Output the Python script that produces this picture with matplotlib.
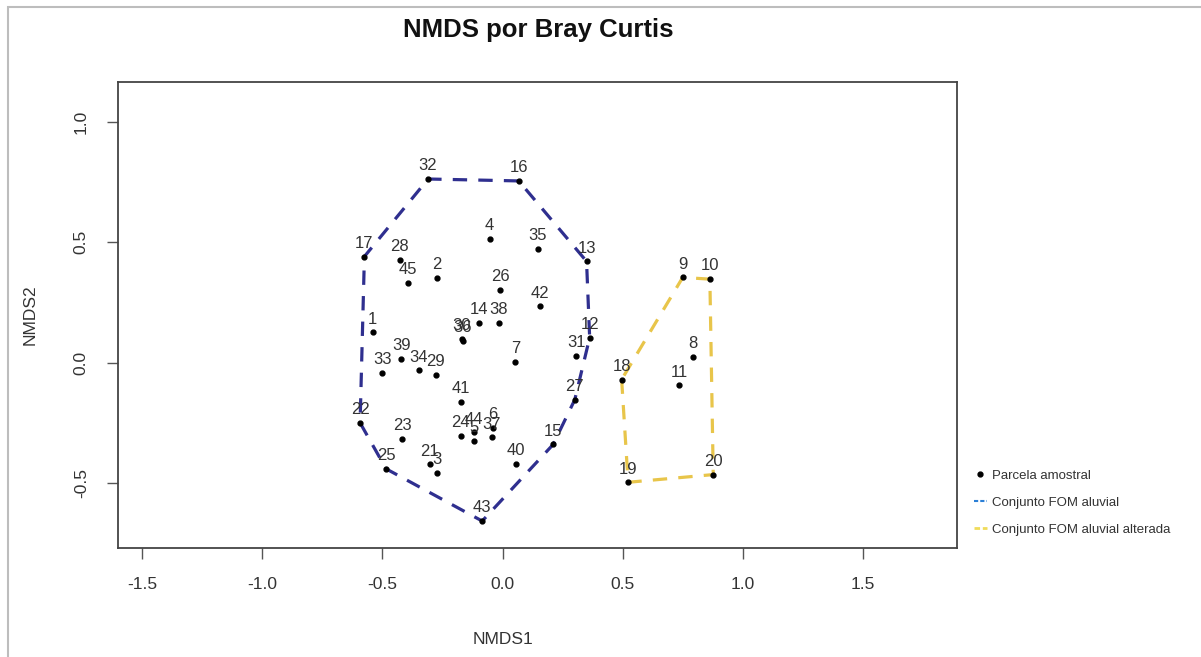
import matplotlib
matplotlib.use("Agg")
import matplotlib.pyplot as plt
from matplotlib.lines import Line2D
from matplotlib.patches import Rectangle

plt.rcParams['font.family'] = ['Liberation Sans', 'DejaVu Sans']

# NMDS scores
labels = ['32', '16', '4', '35', '13', '17', '28', '45', '2', '26', '42', '14', '38',
          '30', '36', '1', '12', '31', '7', '39', '33', '34', '29', '41', '27', '22',
          '23', '24', '44', '5', '37', '6', '15', '21', '3', '25', '40', '43',
          '9', '10', '8', '11', '18', '19', '20']
nmds1 = [-0.31, 0.067, -0.054, 0.146, 0.349, -0.575, -0.429, -0.395, -0.274, -0.010, 0.157, -0.10, -0.015,
         -0.17, -0.165, -0.54, 0.362, 0.307, 0.053, -0.422, -0.501, -0.35, -0.279, -0.172, 0.30, -0.593,
         -0.418, -0.175, -0.12, -0.12, -0.045, -0.04, 0.21, -0.304, -0.274, -0.485, 0.054, -0.085,
         0.749, 0.862, 0.793, 0.735, 0.495, 0.522, 0.876]
nmds2 = [0.763, 0.755, 0.515, 0.473, 0.421, 0.441, 0.427, 0.333, 0.351, 0.303, 0.234, 0.165, 0.165,
         0.10, 0.09, 0.126, 0.104, 0.029, 0.003, 0.017, -0.043, -0.032, -0.05, -0.163, -0.154, -0.25,
         -0.317, -0.305, -0.29, -0.325, -0.31, -0.27, -0.34, -0.423, -0.458, -0.441, -0.42, -0.658,
         0.354, 0.347, 0.024, -0.094, -0.07, -0.497, -0.465]
alterada = ['9', '10', '8', '11', '18', '19', '20']

legend_labels = ['Parcela amostral', 'Conjunto FOM aluvial', 'Conjunto FOM aluvial alterada']


def hull(pts):
    pts = sorted(set(pts))
    def cross(o, a, b):
        return (a[0]-o[0])*(b[1]-o[1]) - (a[1]-o[1])*(b[0]-o[0])
    lower = []
    for p in pts:
        while len(lower) >= 2 and cross(lower[-2], lower[-1], p) <= 0:
            lower.pop()
        lower.append(p)
    upper = []
    for p in reversed(pts):
        while len(upper) >= 2 and cross(upper[-2], upper[-1], p) <= 0:
            upper.pop()
        upper.append(p)
    h = lower[:-1] + upper[:-1]
    return h + [h[0]]


fig = plt.figure(figsize=(12.01, 6.57), dpi=100)
fig.patches.append(Rectangle((8/1201, -0.1), 1.2, 1 - 7/657 + 0.1, transform=fig.transFigure,
                             fill=False, edgecolor='#bdbdbd', linewidth=1.5))
ax = fig.add_axes([118/1201, 1 - 548/657, 839/1201, 466/657])

grp_a = [(x, y) for x, y, l in zip(nmds1, nmds2, labels) if l not in alterada]
grp_b = [(x, y) for x, y, l in zip(nmds1, nmds2, labels) if l in alterada]

for grp, col in [(grp_a, '#2f2f8f'), (grp_b, '#e8c54a')]:
    h = hull(grp)
    ax.plot([p[0] for p in h], [p[1] for p in h], color=col, lw=2.3,
            dashes=(4.5, 3.5), zorder=2)

ax.plot(nmds1, nmds2, 'o', color='black', markersize=3.5, zorder=3)
for x, y, l in zip(nmds1, nmds2, labels):
    ax.annotate(l, (x, y), xytext=(0, 9.5), textcoords='offset points',
                ha='center', va='center', fontsize=12, color='#333333', zorder=4)

ax.set_xlim(-1.6, 1.89)
ax.set_ylim(-0.77, 1.166)
ax.set_xticks([-1.5, -1.0, -0.5, 0.0, 0.5, 1.0, 1.5])
ax.set_yticks([-0.5, 0.0, 0.5, 1.0])
ax.set_xticklabels(['-1.5', '-1.0', '-0.5', '0.0', '0.5', '1.0', '1.5'])
ax.set_yticklabels(['-0.5', '0.0', '0.5', '1.0'], rotation=90, va='center')
ax.tick_params(direction='out', length=8, width=1, colors='#555555',
               labelcolor='#333333', labelsize=12.5, pad=13)
for s in ax.spines.values():
    s.set_color('#444444')
    s.set_linewidth(1.3)

ax.set_xlabel('NMDS1', fontsize=12.5, color='#333333')
ax.xaxis.set_label_coords((503 - 118) / 839, -(640 - 548) / 466)
ax.xaxis.label.set_va('center')
ax.set_ylabel('NMDS2', fontsize=12.5, color='#333333')
ax.yaxis.set_label_coords(-(118 - 30) / 839, 0.5)
ax.yaxis.label.set_va('center')

fig.text(538/1201, 1 - 30/657, 'NMDS por Bray Curtis', ha='center', va='center',
         fontsize=18.5, fontweight='bold', color='#111111')

handles = [Line2D([], [], marker='o', color='black', linestyle='none', markersize=3.5),
           Line2D([], [], color='#2b7fd6', lw=1.5, dashes=(2, 1)),
           Line2D([], [], color='#f0dc5a', lw=2, dashes=(2, 1))]
fig.legend(handles, legend_labels, loc='upper left', bbox_to_anchor=(962/1201, 1 - 458/657),
           frameon=False, fontsize=9.5, handlelength=1.0, handletextpad=0.4,
           labelspacing=1.1, labelcolor='#333333')

fig.savefig('out.png', dpi=100)
